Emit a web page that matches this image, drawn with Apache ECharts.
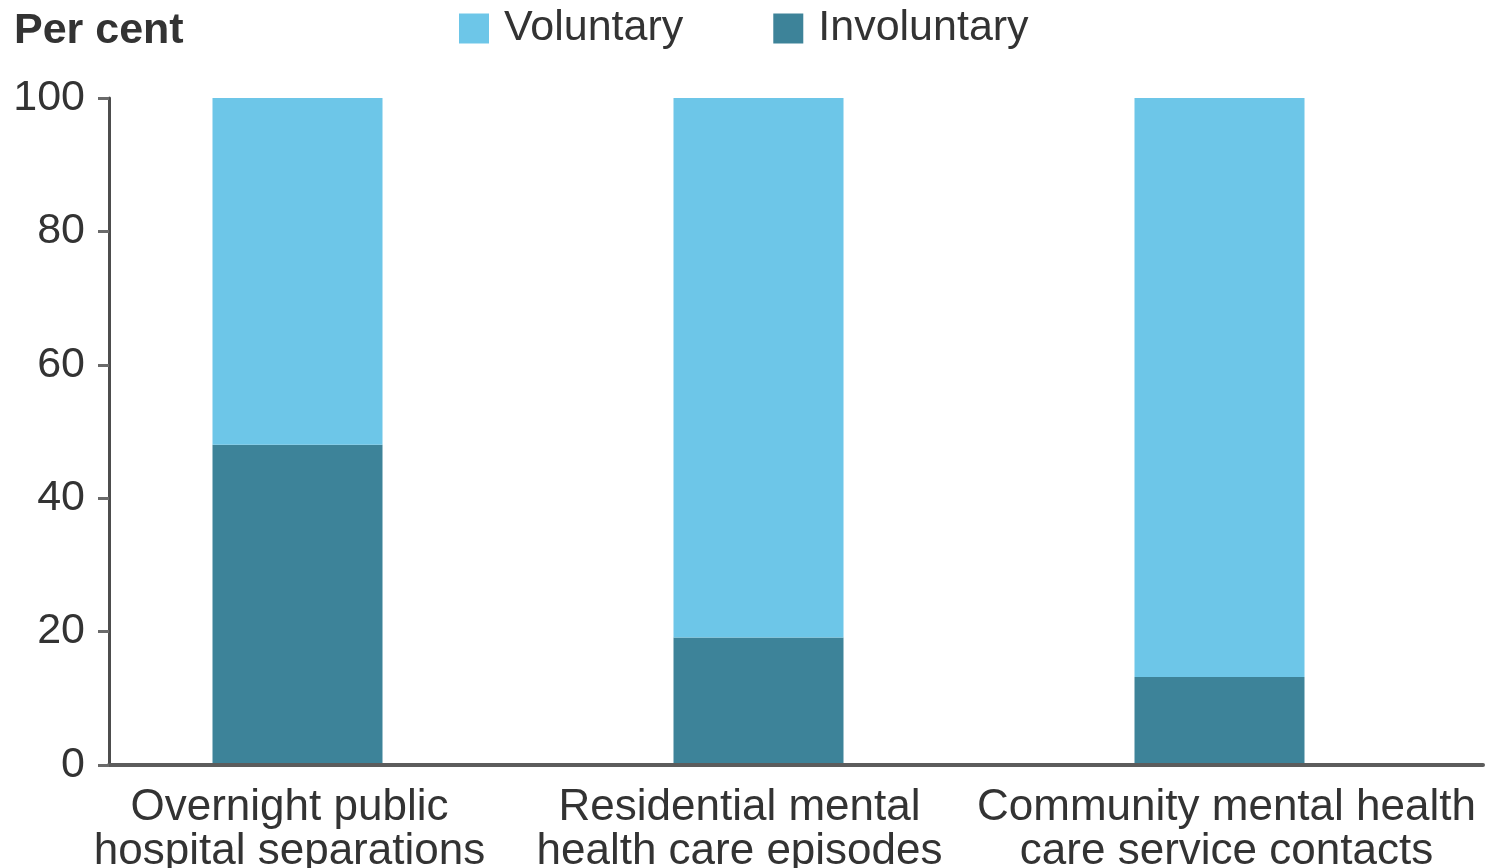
<!DOCTYPE html>
<html>
<head>
<meta charset="utf-8">
<title>Voluntary and involuntary mental health care</title>
<script src="https://cdn.jsdelivr.net/npm/echarts@6/dist/echarts.min.js"></script>
<style>
  html, body { margin: 0; padding: 0; background: #fff; }
  #chart { width: 1491px; height: 868px; }
</style>
</head>
<body>
<div id="chart"></div>
<script>
// Service types shown along the x axis
const categories = [
  'Overnight public\nhospital separations',
  'Residential mental\nhealth care episodes',
  'Community mental health\ncare service contacts'
];
// Share of each service type, per cent
const involuntary = [48.0, 19.1, 13.2];
const voluntary = [52.0, 80.9, 86.8];
// Value axis ticks
const yTicks = [0, 20, 40, 60, 80, 100];

const FONT = '"Liberation Sans", Arial, sans-serif';
const TEXT = '#333333';
const LIGHT = '#6dc6e8';
const DARK = '#3d8399';

// horizontal nudge (px) of each category label relative to its bar
const labelNudge = [-8, -19, 7];
const categoryItems = categories.map((name, i) => {
  const n = labelNudge[i];
  return {
    value: name,
    textStyle: { padding: n < 0 ? [0, -2 * n, 0, 0] : [0, 0, 0, 2 * n] }
  };
});

const chart = echarts.init(document.getElementById('chart'), null, { renderer: 'canvas' });

chart.setOption({
  animation: false,
  title: {
    text: 'Per cent',
    left: 14,
    top: 10,
    padding: 0,
    textStyle: { fontFamily: FONT, fontSize: 43, fontWeight: 'bold', color: TEXT, lineHeight: 43 }
  },
  legend: {
    data: ['Voluntary', 'Involuntary'],
    left: 459,
    top: 7,
    padding: 0,
    icon: 'rect',
    itemWidth: 30,
    itemHeight: 30,
    itemGap: 90,
    textStyle: { fontFamily: FONT, fontSize: 43, color: TEXT, padding: [0, 0, 0, 10] }
  },
  grid: [
    // bars
    { left: 67, right: 41, top: 98, bottom: 103, containLabel: false, outerBoundsMode: 'none' },
    // axis frame
    { left: 109, right: 8, top: 98, bottom: 103, containLabel: false, outerBoundsMode: 'none' }
  ],
  xAxis: [
    {
      type: 'category',
      gridIndex: 0,
      data: categoryItems,
      axisLine: { show: false },
      axisTick: { show: false },
      axisLabel: {
        fontFamily: FONT, fontSize: 44, color: TEXT, lineHeight: 44, margin: 21,
        interval: 0
      }
    },
    {
      type: 'value',
      gridIndex: 1,
      min: 0,
      max: 1,
      z: 5,
      axisLine: { show: true, lineStyle: { color: '#5c5c5c', width: 4 } },
      axisTick: { show: false },
      axisLabel: { show: false },
      splitLine: { show: false }
    }
  ],
  yAxis: [
    {
      type: 'value',
      gridIndex: 0,
      min: 0,
      max: 100,
      show: false
    },
    {
      type: 'value',
      gridIndex: 1,
      min: yTicks[0],
      max: yTicks[yTicks.length - 1],
      interval: yTicks[1] - yTicks[0],
      z: 5,
      axisLine: { show: true, lineStyle: { color: '#4d4d4d', width: 3 } },
      axisTick: { show: true, length: 11, lineStyle: { color: '#6a6a6a', width: 3 } },
      axisLabel: { fontFamily: FONT, fontSize: 43, color: TEXT, margin: 24 },
      splitLine: { show: false }
    }
  ],
  series: [
    {
      name: 'Involuntary',
      type: 'bar',
      stack: 'share',
      xAxisIndex: 0,
      yAxisIndex: 0,
      barWidth: 170,
      data: involuntary,
      itemStyle: { color: DARK }
    },
    {
      name: 'Voluntary',
      type: 'bar',
      stack: 'share',
      xAxisIndex: 0,
      yAxisIndex: 0,
      barWidth: 170,
      data: voluntary,
      itemStyle: { color: LIGHT }
    }
  ]
});
</script>
</body>
</html>
